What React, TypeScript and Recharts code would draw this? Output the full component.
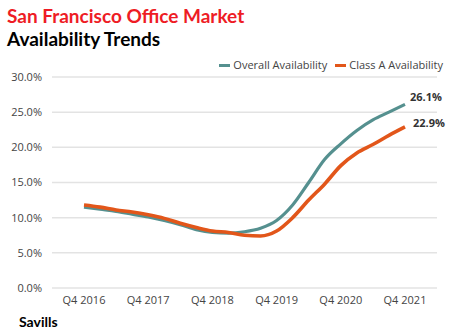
import React from "react";
import { LineChart, Line, XAxis, YAxis, CartesianGrid, LabelList } from "recharts";

const quarters = [
  "Q4 2016", "Q1 2017", "Q2 2017", "Q3 2017",
  "Q4 2017", "Q1 2018", "Q2 2018", "Q3 2018",
  "Q4 2018", "Q1 2019", "Q2 2019", "Q3 2019",
  "Q4 2019", "Q1 2020", "Q2 2020", "Q3 2020",
  "Q4 2020", "Q1 2021", "Q2 2021", "Q3 2021",
  "Q4 2021",
];

const overall = [
  11.5, 11.2, 10.9, 10.5, 10.1, 9.6, 9.0, 8.3, 7.9, 7.8, 8.0, 8.5, 9.6, 11.8, 15.0, 18.3, 20.5, 22.4, 23.9, 25.0, 26.1,
];

const classA = [
  11.8, 11.5, 11.1, 10.8, 10.4, 9.9, 9.2, 8.6, 8.1, 7.9, 7.5, 7.4, 8.1, 10.0, 12.5, 14.8, 17.4, 19.2, 20.4, 21.7, 22.9,
];

const yTicks = [0, 5, 10, 15, 20, 25, 30];

const seriesNames = ["Overall Availability", "Class A Availability"];

const TEAL = "#55908f";
const ORANGE = "#e2561a";
const FONT = "'Open Sans', sans-serif";

const data = quarters.map((q, i) => ({ q, overall: overall[i], classA: classA[i] }));

function endLabel(dx: number, dy: number) {
  return (props: any) => {
    const { x, y, value, index } = props;
    if (index !== quarters.length - 1) return null;
    return (
      <text x={x + dx} y={y + dy} fontFamily={FONT} fontSize={11} fontWeight={700} fill="#333" dominantBaseline="middle">
        {value.toFixed(1)}%
      </text>
    );
  };
}

function LegendBox() {
  const colors = [TEAL, ORANGE];
  return (
    <div style={{ position: "absolute", right: 8, top: 57, display: "flex", fontFamily: FONT, fontSize: 11, color: "#444", lineHeight: "16px" }}>
      {seriesNames.map((name, i) => (
        <span key={name} style={{ display: "flex", alignItems: "center", marginLeft: 8 }}>
          <span style={{ width: 11, height: 3, background: colors[i], marginRight: 3, display: "inline-block" }} />
          {name}
        </span>
      ))}
    </div>
  );
}

export default function App() {
  return (
    <div style={{ position: "absolute", left: 0, top: 0, width: 451, height: 333, background: "#fff" }}>
      <div style={{ position: "absolute", left: 7, top: 4, fontFamily: "Lato, sans-serif", fontWeight: 700, fontSize: 19, color: "#ee1c25", lineHeight: "24px" }}>
        San Francisco Office Market
      </div>
      <div style={{ position: "absolute", left: 7, top: 27, fontFamily: "Lato, sans-serif", fontWeight: 700, fontSize: 19, color: "#000", lineHeight: "24px" }}>
        Availability Trends
      </div>
      <LineChart width={451} height={333} data={data} margin={{ top: 77, right: 14, bottom: 15, left: 7 }}>
        <CartesianGrid vertical={false} stroke="#e3e3e3" strokeWidth={1.5} />
        <XAxis
          dataKey="q"
          interval={3}
          axisLine={false}
          tickLine={false}
          padding={{ left: 32, right: 32 }}
          tick={{ fontFamily: FONT, fontSize: 11, fill: "#444" }}
          tickMargin={2}
          height={30}
        />
        <YAxis
          domain={[0, 30]}
          ticks={yTicks}
          width={45}
          axisLine={false}
          tickLine={false}
          tickMargin={4}
          tickFormatter={(v: number) => `${v.toFixed(1)}%`}
          tick={{ fontFamily: FONT, fontSize: 11, fill: "#444" }}
        />
        <Line type="monotone" dataKey="overall" name={seriesNames[0]} stroke={TEAL} strokeWidth={3.2} dot={false} isAnimationActive={false}>
          <LabelList dataKey="overall" content={endLabel(5, -6)} />
        </Line>
        <Line type="monotone" dataKey="classA" name={seriesNames[1]} stroke={ORANGE} strokeWidth={3.6} dot={false} isAnimationActive={false}>
          <LabelList dataKey="classA" content={endLabel(8, -3)} />
        </Line>
      </LineChart>
      <LegendBox />
      <div style={{ position: "absolute", left: 19, top: 313, fontFamily: "Lato, sans-serif", fontWeight: 700, fontSize: 14, color: "#000" }}>
        Savills
      </div>
    </div>
  );
}
